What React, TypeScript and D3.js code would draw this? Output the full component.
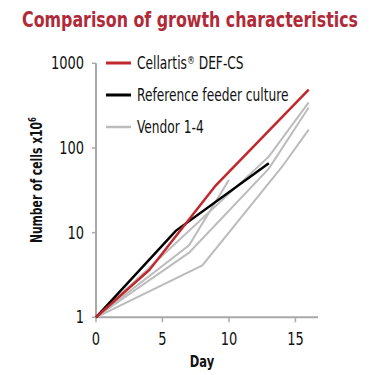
import React from "react";
import * as d3 from "d3";

const title = "Comparison of growth characteristics";
const xTicks = [0, 5, 10, 15];
const yTicks = [1, 10, 100, 1000];
const legendLabels = ["Cellartis® DEF-CS", "Reference feeder culture", "Vendor 1-4"];

const cellartisDays = [0, 4, 9, 16];
const cellartisCells = [1, 3.6, 36, 490];
const referenceDays = [0, 6, 13];
const referenceCells = [1, 10.5, 66];
const vendor1Days = [0, 7, 10];
const vendor1Cells = [1, 7.1, 42];
const vendor2Days = [0, 13, 16];
const vendor2Cells = [1, 79, 345];
const vendor3Days = [0, 7, 13, 16];
const vendor3Cells = [1, 5.8, 57, 300];
const vendor4Days = [0, 8, 14, 16];
const vendor4Cells = [1, 4.1, 60, 165];

const W = 380;
const H = 375;
const COND = "'DejaVu Sans Condensed', 'Liberation Sans Narrow', Arial, sans-serif";
const RED = "#c1272d";
const TITLE_RED = "#b02a37";
const GRAY = "#bcbcbc";
const AXIS = "#a8a8a8";

function zip(days: number[], cells: number[]) {
  return days.map((d, i) => ({ d, v: cells[i] }));
}

export default function App() {
  const x = d3.scaleLinear().domain([0, 16.7]).range([96, 318]);
  const y = d3.scaleLog().domain([1, 1000]).range([317.3, 63.3]);
  const line = d3
    .line<{ d: number; v: number }>()
    .x((p) => x(p.d))
    .y((p) => y(p.v));

  const vendors = [
    zip(vendor1Days, vendor1Cells),
    zip(vendor2Days, vendor2Cells),
    zip(vendor3Days, vendor3Cells),
    zip(vendor4Days, vendor4Cells),
  ];
  const reference = zip(referenceDays, referenceCells);
  const cellartis = zip(cellartisDays, cellartisCells);

  const legendColors = [RED, "#000", GRAY];
  const legendY = [63, 95, 127];

  return (
    <svg
      width={W}
      height={H}
      style={{ position: "absolute", left: 0, top: 0, background: "#fff" }}
    >
      <g transform="translate(22,27) scale(0.8,1)">
        <text
          x={0}
          y={0}
          fill={TITLE_RED}
          fontFamily={COND}
          fontWeight="bold"
          fontSize={22}
          textLength={420}
          lengthAdjust="spacingAndGlyphs"
        >
          {title}
        </text>
      </g>

      {/* axes */}
      <line x1={x(0)} x2={x(0)} y1={y(1000)} y2={y(1) + 1} stroke={AXIS} strokeWidth={2} />
      <line x1={x(0) - 1} x2={x(16.7)} y1={y(1)} y2={y(1)} stroke={AXIS} strokeWidth={2} />
      {yTicks.map((t) => (
        <g key={"y" + t}>
          <line x1={x(0) - 4} x2={x(0)} y1={y(t)} y2={y(t)} stroke={AXIS} strokeWidth={1.5} />
          <g transform={`translate(84,${y(t) + 6}) scale(0.85,1)`}>
            <text x={0} y={0} textAnchor="end" fontFamily={COND} fontSize={17} fill="#111">
              {t}
            </text>
          </g>
        </g>
      ))}
      {xTicks.map((t) => (
        <g key={"x" + t}>
          <line x1={x(t)} x2={x(t)} y1={y(1)} y2={y(1) + 5} stroke={AXIS} strokeWidth={1.5} />
          <g transform={`translate(${x(t)},345) scale(0.85,1)`}>
            <text x={0} y={0} textAnchor="middle" fontFamily={COND} fontSize={17} fill="#111">
              {t}
            </text>
          </g>
        </g>
      ))}
      <g transform="translate(202,367) scale(0.85,1)">
        <text
          x={0}
          y={0}
          textAnchor="middle"
          fontFamily={COND}
          fontWeight="bold"
          fontSize={15}
          fill="#111"
        >
          Day
        </text>
      </g>
      <g transform="translate(42,180) rotate(-90) scale(0.8,1)">
        <text
          x={0}
          y={0}
          textAnchor="middle"
          fontFamily={COND}
          fontWeight="bold"
          fontSize={15}
          fill="#111"
        >
          Number of cells x10
          <tspan dy={-6} fontSize={10}>6</tspan>
        </text>
      </g>

      {/* series */}
      {vendors.map((v, i) => (
        <path key={"v" + i} d={line(v) || ""} fill="none" stroke={GRAY} strokeWidth={2} />
      ))}
      <path d={line(reference) || ""} fill="none" stroke="#000" strokeWidth={2.5} />
      <path d={line(cellartis) || ""} fill="none" stroke={RED} strokeWidth={2.5} />

      {/* legend */}
      {legendLabels.map((l, i) => (
        <g key={"l" + i}>
          <line
            x1={106}
            x2={131}
            y1={legendY[i]}
            y2={legendY[i]}
            stroke={legendColors[i]}
            strokeWidth={i === 2 ? 2.5 : 3}
          />
          <g transform={`translate(137,${legendY[i] + 6}) scale(0.8,1)`}>
            <text x={0} y={0} fontFamily={COND} fontSize={17} fill="#111">
              {i === 0 ? (
                <>
                  Cellartis<tspan fontSize={11} dy={-5}>®</tspan>
                  <tspan dy={5}> DEF-CS</tspan>
                </>
              ) : (
                l
              )}
            </text>
          </g>
        </g>
      ))}
    </svg>
  );
}
